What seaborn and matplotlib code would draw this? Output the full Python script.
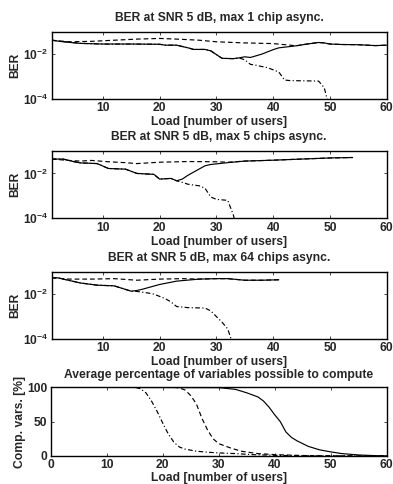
import numpy as np
import matplotlib
matplotlib.use("Agg")
import matplotlib.pyplot as plt
from matplotlib.ticker import NullLocator
import seaborn as sns

# --- BER at SNR 5 dB, max 1 chip async.
x1_solid = [1, 3, 6, 10, 15, 20, 21, 23, 25, 26, 28, 29, 31, 33, 34, 35, 36, 38, 40, 41, 44, 46, 48, 49, 50, 52, 55, 58, 60]
ber1_solid = [0.0417, 0.0355, 0.0302, 0.0282, 0.0282, 0.0275, 0.0251, 0.0251, 0.0191, 0.0162, 0.0162, 0.0141, 0.0065,
              0.0063, 0.0068, 0.0076, 0.0071, 0.01, 0.0158, 0.0191, 0.0234, 0.0282, 0.0331, 0.0316, 0.0282, 0.0269,
              0.0263, 0.024, 0.0251]
x1_dash = [1, 4, 8, 12, 16, 20, 23, 27, 30, 35, 40, 43, 44, 46, 48, 49, 50, 52, 55, 58, 60]
ber1_dash = [0.0417, 0.0355, 0.0372, 0.0417, 0.0468, 0.0501, 0.0468, 0.0417, 0.0355, 0.0316, 0.0295, 0.0251, 0.0234,
             0.0282, 0.0331, 0.0316, 0.0282, 0.0269, 0.0263, 0.024, 0.0251]
x1_dd = [1, 6, 10, 15, 20, 21, 23, 25, 26, 28, 29, 31, 33, 34, 35, 36, 37, 38, 39, 40, 41, 42, 43, 48, 49, 50]
ber1_dd = [0.0417, 0.0302, 0.0282, 0.0282, 0.0275, 0.0251, 0.0251, 0.0191, 0.0162, 0.0162, 0.0141, 0.0065, 0.0063,
           0.0068, 0.0056, 0.0035, 0.0032, 0.0028, 0.0025, 0.002, 0.0016, 0.0007, 0.00066, 0.00063, 0.00032, 3.2e-5]

# --- BER at SNR 5 dB, max 5 chips async.
x2_solid = [1, 3, 5, 6, 9, 11, 14, 16, 19, 20, 22, 23, 24, 25, 28, 29, 32, 35, 40, 45, 50, 54]
ber2_solid = [0.0437, 0.0437, 0.0331, 0.0295, 0.0275, 0.0166, 0.0155, 0.01, 0.0091, 0.0056, 0.006, 0.0047, 0.0056,
              0.0083, 0.0219, 0.0251, 0.0302, 0.0355, 0.0389, 0.0437, 0.049, 0.0513]
x2_dash = [1, 4, 6, 8, 11, 14, 16, 20, 25, 30, 32, 35, 40, 45, 50, 54]
ber2_dash = [0.0437, 0.038, 0.0355, 0.038, 0.0331, 0.0302, 0.0275, 0.0316, 0.0339, 0.0331, 0.0316, 0.0355, 0.0389,
             0.0437, 0.049, 0.0513]
x2_dd = [1, 3, 5, 6, 9, 11, 14, 16, 19, 20, 22, 23, 24, 25, 27, 28, 29, 30, 32, 33, 34]
ber2_dd = [0.0437, 0.0437, 0.0331, 0.0295, 0.0275, 0.0166, 0.0155, 0.01, 0.0091, 0.0056, 0.006, 0.0047, 0.004,
           0.0033, 0.0028, 0.0022, 0.00089, 0.0007, 0.00063, 0.00014, 1e-5]

# --- BER at SNR 5 dB, max 64 chips async.
x3_solid = [1, 2, 6, 9, 12, 15, 16, 17, 20, 23, 27, 30, 32, 35, 38, 41]
ber3_solid = [0.0537, 0.0537, 0.0316, 0.0251, 0.0234, 0.0135, 0.0145, 0.0166, 0.0269, 0.038, 0.0468, 0.049, 0.049,
              0.0417, 0.0417, 0.0437]
x3_dash = [1, 4, 8, 12, 16, 20, 24, 27, 30, 32, 35, 38, 41]
ber3_dash = [0.0537, 0.0468, 0.0468, 0.049, 0.0417, 0.0468, 0.049, 0.0468, 0.049, 0.049, 0.0417, 0.0417, 0.0437]
x3_dd = [1, 2, 6, 9, 12, 15, 16, 18, 19, 21, 22, 23, 25, 28, 29, 30, 31, 32, 33]
ber3_dd = [0.0537, 0.0537, 0.0316, 0.0251, 0.0234, 0.0135, 0.0132, 0.0112, 0.01, 0.0063, 0.0045, 0.0028, 0.0025,
           0.0024, 0.0018, 0.001, 0.00056, 0.00028, 5e-5]

# --- Average percentage of variables possible to compute
x4_solid = [0, 30, 33, 35, 37, 38, 39, 40, 41, 42, 43, 44, 46, 48, 50, 52, 55, 58, 60]
pct4_solid = [100, 99.5, 97, 92, 86, 80, 71, 60, 50, 35, 27, 22, 14, 9, 6, 3.5, 1.5, 0.5, 0.2]
x4_dash = [0, 22, 23, 24, 25, 26, 27, 28, 29, 30, 32, 34, 37, 40, 45, 50, 60]
pct4_dash = [100, 100, 99, 96, 88, 76, 55, 38, 25, 18, 12, 7, 3.5, 2, 0.7, 0.2, 0]
x4_dd = [0, 15, 16, 17, 18, 19, 20, 21, 22, 23, 24, 26, 28, 30, 33, 36, 40, 45, 60]
pct4_dd = [100, 100, 98, 92, 80, 65, 48, 32, 20, 13, 10, 7, 5.5, 4.5, 3.5, 2, 1, 0.3, 0]

titles = ["BER at SNR 5 dB, max 1 chip async.",
          "BER at SNR 5 dB, max 5 chips async.",
          "BER at SNR 5 dB, max 64 chips async.",
          "Average percentage of variables possible to compute"]
xlabel = "Load [number of users]"

sns.set_style("ticks")
plt.rcParams["font.family"] = ["Liberation Sans", "DejaVu Sans"]
plt.rcParams["font.weight"] = "bold"
plt.rcParams["axes.titleweight"] = "bold"
plt.rcParams["axes.labelweight"] = "bold"
plt.rcParams["mathtext.fontset"] = "custom"
plt.rcParams["mathtext.rm"] = "Liberation Sans:bold"
plt.rcParams["mathtext.bf"] = "Liberation Sans:bold"
plt.rcParams["mathtext.it"] = "Liberation Sans:bold"

fs = 8.7
fig = plt.figure(figsize=(3.93, 4.84), dpi=100)
W, H = 393.0, 484.0
boxes = [(51.7, 31.7, 386.7, 99.0), (51.7, 151.0, 386.7, 218.3),
         (51.7, 271.7, 386.7, 339.0), (50.7, 387.3, 386.7, 456.0)]
axes = [fig.add_axes([l / W, 1 - b / H, (r - l) / W, (b - t) / H]) for l, t, r, b in boxes]

ber_sets = [(x1_solid, ber1_solid, x1_dash, ber1_dash, x1_dd, ber1_dd),
            (x2_solid, ber2_solid, x2_dash, ber2_dash, x2_dd, ber2_dd),
            (x3_solid, ber3_solid, x3_dash, ber3_dash, x3_dd, ber3_dd),
            (x4_solid, pct4_solid, x4_dash, pct4_dash, x4_dd, pct4_dd)]

lw = 0.85
for i, (ax, s) in enumerate(zip(axes, ber_sets)):
    xs, ys, xd, yd, xdd, ydd = s
    sns.lineplot(x=xdd, y=ydd, ax=ax, color="k", lw=lw, linestyle=(0, (4, 2, 1, 2)), sort=False)
    sns.lineplot(x=xd, y=yd, ax=ax, color="k", lw=lw, linestyle=(0, (4, 2.5)), sort=False)
    sns.lineplot(x=xs, y=ys, ax=ax, color="k", lw=lw, sort=False)
    if i < 3:
        ax.set_yscale("log")
        ax.set_ylim(1e-4, 1e-1)
        ax.set_xlim(1, 60)
        ax.set_yticks([1e-4, 1e-2])
        ax.set_yticklabels([r"$\mathbf{10^{-4}}$", r"$\mathbf{10^{-2}}$"])
        ax.yaxis.set_minor_locator(NullLocator())
        ax.set_xticks([10, 20, 30, 40, 50, 60])
        ax.set_ylabel("BER", fontsize=fs)
        ax.yaxis.set_label_coords(-0.092, 0.5)
        ax.set_title(titles[i], fontsize=fs, pad=8)
        ax.xaxis.set_label_coords(0.5, -0.26)
    else:
        ax.set_ylim(0, 100)
        ax.set_xlim(0, 60)
        ax.set_yticks([0, 50, 100])
        ax.set_xticks([0, 10, 20, 30, 40, 50, 60])
        ax.set_ylabel("Comp. vars. [%]", fontsize=fs)
        ax.yaxis.set_label_coords(-0.073, 0.5)
        ax.set_title(titles[i], fontsize=fs, pad=7)
        ax.xaxis.set_label_coords(0.5, -0.235)
    ax.set_xlabel(xlabel, fontsize=fs)
    ax.tick_params(direction="in", length=2.5, width=0.6, top=True, right=True,
                   labelsize=fs, pad=2.5)
    for sp in ax.spines.values():
        sp.set_linewidth(1.0)
        sp.set_color("k")

fig.savefig("out.png", dpi=100)
